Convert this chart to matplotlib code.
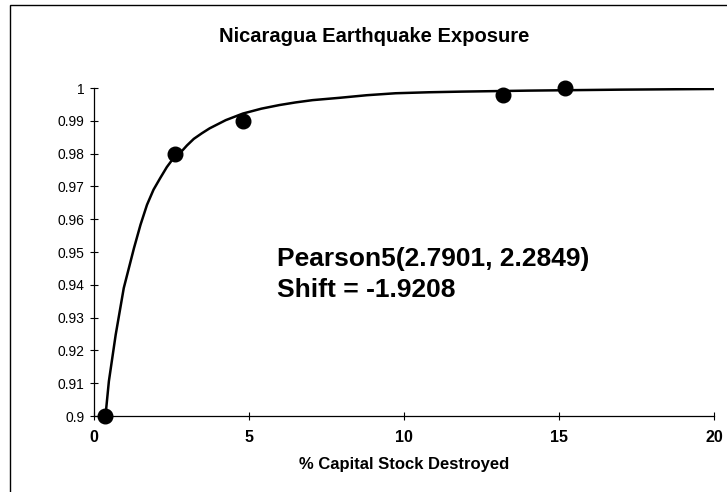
import matplotlib
matplotlib.use("Agg")
import matplotlib.pyplot as plt
from matplotlib.patches import Rectangle

# Observed data points
obs_x = [0.35, 2.6, 4.8, 13.2, 15.2]
obs_y = [0.900, 0.980, 0.990, 0.998, 1.000]

# Fitted curve
curve_x = [0.37, 0.48, 0.70, 0.96, 1.29, 1.50, 1.71, 1.92, 2.14, 2.35, 2.57,
           2.77, 3.00, 3.22, 3.48, 3.73, 4.25, 4.80, 5.40, 5.98, 6.50, 7.05,
           7.91, 8.80, 9.73, 10.8, 11.87, 14.0, 17.0, 20.0]
curve_y = [0.900, 0.9106, 0.9248, 0.939, 0.9512, 0.9583, 0.9644, 0.9690,
           0.9726, 0.9759, 0.9787, 0.9801, 0.9825, 0.9845, 0.9862, 0.9877,
           0.9902, 0.9922, 0.9937, 0.9948, 0.9956, 0.9963, 0.9970, 0.9978,
           0.9984, 0.9987, 0.9989, 0.9992, 0.9995, 0.9997]

x_ticks = [0, 5, 10, 15, 20]
y_ticks = [0.90, 0.91, 0.92, 0.93, 0.94, 0.95, 0.96, 0.97, 0.98, 0.99, 1.00]
y_tick_labels = ["0.9", "0.91", "0.92", "0.93", "0.94", "0.95", "0.96",
                 "0.97", "0.98", "0.99", "1"]

title = "Nicaragua Earthquake Exposure"
xlabel = "% Capital Stock Destroyed"
annotation = "Pearson5(2.7901, 2.2849)\nShift = -1.9208"

plt.rcParams['font.family'] = ['Liberation Sans', 'DejaVu Sans']

fig = plt.figure(figsize=(7.27, 4.92), dpi=100)
ax = fig.add_axes([94/727, 1-416/492, (714-94)/727, (416-88)/492])

# chart-area border
fig.patches.append(Rectangle((10/727, -0.1), 1.2, 1 - 5/492 + 0.1,
                             transform=fig.transFigure, fill=False,
                             edgecolor='black', linewidth=1.0))

ax.plot(curve_x, curve_y, color='black', linewidth=1.8, zorder=3)
ax.plot(obs_x, obs_y, linestyle='none', marker='o', markersize=10.5,
        color='black', zorder=4, clip_on=False)

ax.set_xlim(0, 20)
ax.set_ylim(0.9, 1.0)
ax.set_xticks(x_ticks)
ax.set_xticklabels([str(t) for t in x_ticks], fontweight='bold', fontsize=11.5)
ax.set_yticks(y_ticks)
ax.set_yticklabels(y_tick_labels, fontsize=10)
ax.tick_params(direction='inout', length=6, width=0.8, colors='black')
ax.tick_params(axis='x', pad=7)
ax.tick_params(axis='y', pad=4)

for s in ['top', 'right']:
    ax.spines[s].set_visible(False)
for s in ['left', 'bottom']:
    ax.spines[s].set_color('black')
    ax.spines[s].set_linewidth(0.9)

fig.text(374/727, 1-37/492, title, ha='center', va='center',
         fontsize=14.5, fontweight='bold')
fig.text(404/727, 1-465/492, xlabel, ha='center', va='center',
         fontsize=12, fontweight='bold')
ax.text(277/727, 1-247/492, annotation, transform=fig.transFigure,
        ha='left', va='top', fontsize=19, fontweight='bold',
        linespacing=1.36)

fig.savefig("out.png", dpi=100)
